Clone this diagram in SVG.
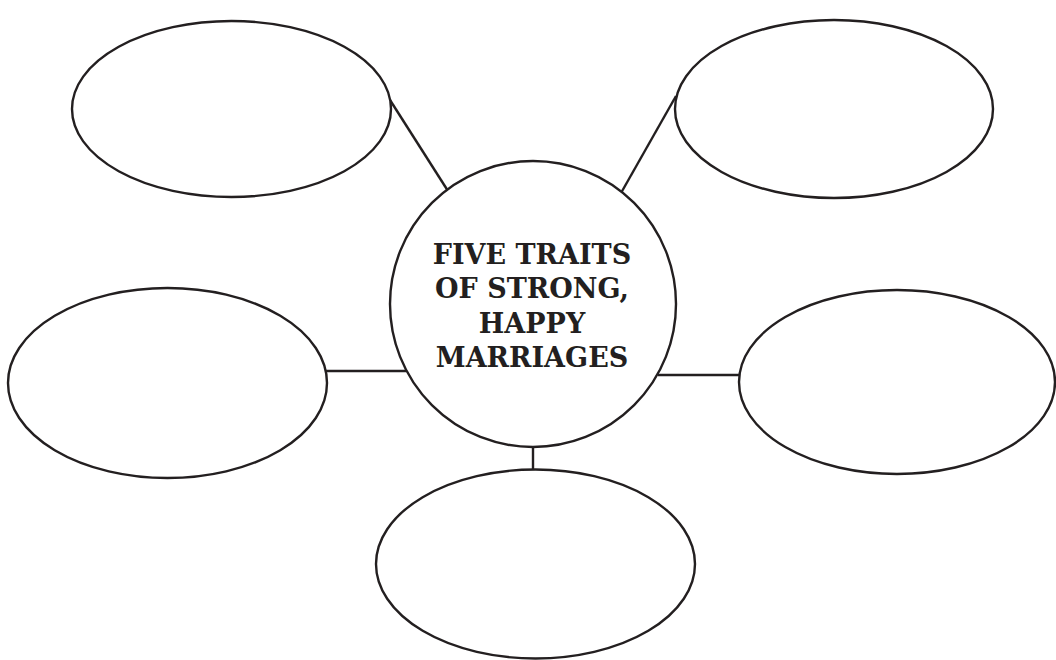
<svg xmlns="http://www.w3.org/2000/svg" width="1056" height="660" viewBox="0 0 1056 660">
<style>
.n{fill:#fff;stroke:#231f20;stroke-width:2.4}
.c{stroke:#231f20;stroke-width:2.4;fill:none}
.t{font-family:"DejaVu Serif","Liberation Serif",serif;font-weight:bold;font-size:27px;fill:#231f20;text-anchor:middle}
</style>
<rect width="1056" height="660" fill="#fff"/>
<g id="connectors">
<line class="c" x1="390" y1="100" x2="448" y2="191"/>
<line class="c" x1="621" y1="193" x2="676" y2="96"/>
<line class="c" x1="326" y1="371" x2="406" y2="371"/>
<line class="c" x1="658" y1="375" x2="740" y2="375"/>
<line class="c" x1="533" y1="446" x2="533" y2="470"/>
</g>
<g id="center">
<circle class="n" cx="533" cy="304" r="143"/>
<text class="t" x="532" y="264">FIVE TRAITS</text>
<text class="t" x="532" y="298">OF STRONG,</text>
<text class="t" x="532" y="333">HAPPY</text>
<text class="t" x="532" y="367">MARRIAGES</text>
</g>
<g id="top-left"><ellipse class="n" cx="231.5" cy="109" rx="159.5" ry="88"/></g>
<g id="top-right"><ellipse class="n" cx="834" cy="109" rx="159" ry="89"/></g>
<g id="mid-left"><ellipse class="n" cx="167.5" cy="383" rx="159.5" ry="95"/></g>
<g id="mid-right"><ellipse class="n" cx="897" cy="382" rx="158" ry="92"/></g>
<g id="bottom"><ellipse class="n" cx="535.5" cy="564" rx="159.5" ry="94.5"/></g>
</svg>
